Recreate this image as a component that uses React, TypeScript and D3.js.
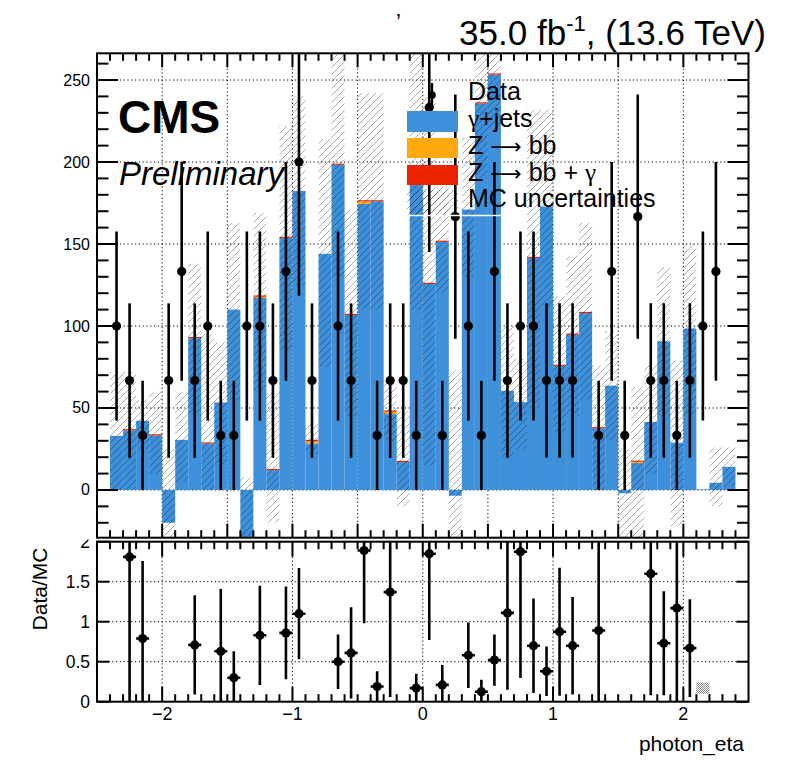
import * as d3 from 'd3';
import React from 'react';

// photon eta histogram: 50 bins from -2.5 to 2.5
const nBins = 50;
const etaMin = -2.5;
const etaMax = 2.5;

// stacked MC contributions per bin
const gammaJets = [
    0, 33, 36.4, 42.2, 33.3, -20, 30.6, 92.6, 28.3, 53.4,
    110, -45, 117.1, 12.1, 153.7, 182.4, 28.4, 144, 198.3, 106.7,
    174.5, 176, 46.3, 17, 190, 125.6, 151.3, -3.5, 171, 235.7,
    253.3, 60.5, 53.6, 141.5, 172.8, 75.7, 94.7, 107.9, 37.6, 63.6,
    -2, 16.4, 41.5, 90.7, 28.9, 98.4, 0.4, 4.4, 14.1, 0,
];
const zToBB = [
    0, 0, 0, 0, 0, 0, 0, 0, 0, 0,
    0, 0, 0.8, 0, 0, 0, 1.5, 0, 0, 0,
    1.5, 0, 1.5, 0, 0, 0, 0, 0, 0, 0,
    0, 0, 0, 0, 0, 0, 0, 0, 0, 0,
    0, 0.8, 0, 0, 0, 0, 0, 0, 0, 0,
];
const zToBBGamma = [
    0, 0, 0.7, 0, 0.7, 0, 0, 0.7, 0.7, 0,
    0, 0, 0.7, 0.7, 0.7, 0, 0.7, 0, 0.7, 0.7,
    0.7, 0.7, 0.7, 0.7, 0, 0.7, 0.7, 0, 0, 0.7,
    0.7, 0, 0, 0.7, 0, 0.7, 0.7, 0.7, 0.7, 0,
    0, 0.7, 0, 0, 0, 0, 0, 0, 0, 0,
];

// MC uncertainty band (hatched), lower and upper edge per bin
const mcUncLow = [
    0, 0, 0, 25, 10, -60, 5, 45, 0, 15,
    55, -90, 60, -20, 85, 125, 22, 75, 130, 45,
    110, 110, 30, -10, 110, 15, 120, -80, 130, 190,
    220, 20, 25, 50, 112, 35, 45, 55, 0, 30,
    -30, -35, 10, 45, -22, 45, 0, -10, 2, 0,
];
const mcUncHigh = [
    0, 72, 72, 55, 60, 25, 60, 138, 95, 90,
    163, 8, 169, 60, 222, 240, 40, 214, 275, 171,
    242, 242, 65, 48, 275, 240, 185, 73, 215, 275,
    275, 100, 80, 232, 232, 118, 143, 163, 76, 97,
    25, 63, 77, 136, 79, 150, 0, 26, 26, 0,
];

// data (weighted events) and their errors
const dataValues = [
    0, 100, 66.7, 33.3, 0, 66.7, 133.3, 66.7, 100, 33.3,
    33.3, 100, 100, 66.7, 133.3, 200, 66.7, 0, 100, 66.7,
    0, 33.3, 66.7, 66.7, 33.3, 233.3, 33.3, 166.7, 100, 33.3,
    133.3, 66.7, 100, 100, 66.7, 66.7, 66.7, 0, 33.3, 133.3,
    33.3, 166.7, 66.7, 66.7, 33.3, 66.7, 100, 133.3, 0, 0,
];
const dataErrors = [
    0, 57.7, 47.1, 33.3, 0, 47.1, 66.7, 47.1, 57.7, 33.3,
    33.3, 57.7, 57.7, 47.1, 66.7, 81.6, 47.1, 0, 57.7, 47.1,
    0, 33.3, 47.1, 47.1, 33.3, 88.2, 33.3, 74.5, 57.7, 33.3,
    66.7, 47.1, 57.7, 57.7, 47.1, 47.1, 47.1, 0, 33.3, 66.7,
    33.3, 74.5, 47.1, 47.1, 33.3, 47.1, 57.7, 66.7, 0, 0,
];

// Data/MC ratio panel (null = no point drawn)
const ratioValues: (number | null)[] = [
    null, null, 1.81, 0.79, null, null, null, 0.71, null, 0.63,
    0.30, null, 0.83, null, 0.86, 1.10, null, null, 0.50, 0.61,
    1.89, 0.19, 1.37, null, 0.17, 1.85, 0.21, null, 0.58, 0.125,
    0.52, 1.11, 1.875, 0.70, 0.38, 0.875, 0.70, null, 0.89, null,
    null, null, 1.60, 0.73, 1.17, 0.67, null, null, null, null,
];
const ratioErrors = [
    0, 0, 1.85, 0.97, 0, 0, 0, 0.62, 0, 0.78,
    0.33, 0, 0.62, 0, 0.58, 0.57, 0, 0, 0.34, 0.57,
    0.91, 0.19, 1.31, 0, 0.18, 1.08, 0.25, 0, 0.41, 0.15,
    0.32, 0.96, 1.58, 0.59, 0.31, 0.8, 0.61, 0, 1.2, 0,
    0, 0, 1.52, 0.65, 1.2, 0.61, 0, 0, 0, 0,
];
// ratio MC-uncertainty box that shows in the panel
const ratioBandBin = [46];
const ratioBandLow = [0.10];
const ratioBandHigh = [0.24];

const topTicks = [0, 50, 100, 150, 200, 250];
const ratioTicks = [0, 0.5, 1, 1.5, 2];
const etaLabels = [-2, -1, 0, 1, 2];

const BLUE = '#3f90da';
const ORANGE = '#ffa90e';
const RED = '#ec2300';
const FONT = '"Liberation Sans", Arial, Helvetica, sans-serif';

const App = (): React.ReactElement => {
    const W = 796;
    const H = 772;
    const frameL = 97;
    const frameR = 748.5;
    const topT = 53.3;
    const topB = 537.7;
    const botT = 541.7;
    const botB = 701.7;

    const x = d3.scaleLinear().domain([etaMin, etaMax]).range([frameL, frameR]);
    const y = d3.scaleLinear().domain([-29.1, 266.3]).range([topB, topT]);
    const yr = d3.scaleLinear().domain([0, 2]).range([botB, botT]);

    const binW = (etaMax - etaMin) / nBins;
    const bins = d3.range(nBins).map((i) => ({ lo: etaMin + i * binW, hi: etaMin + (i + 1) * binW, c: etaMin + (i + 0.5) * binW }));

    const minorEta = d3.range(-24, 25).map((i) => i / 10);
    const halfEta = d3.range(-4, 5).map((i) => i / 2);
    const minorTop = d3.range(-20, 261, 10);

    const dotted = { stroke: '#000', strokeWidth: 1, strokeDasharray: '1.2 2.6' };

    // stacked rectangle helper
    const rect = (i: number, a: number, b: number, fill: string, key: string) => {
        if (a === b) return null;
        const y0 = y(Math.max(a, b));
        const y1 = y(Math.min(a, b));
        return <rect key={key} x={x(bins[i].lo)} y={y0} width={x(bins[i].hi) - x(bins[i].lo)} height={y1 - y0} fill={fill} />;
    };

    const arrow = (
        <tspan fontFamily='"DejaVu Sans", sans-serif' fontSize={22}>
            {'\u27f6'}
        </tspan>
    );
    const gamma = (
        <tspan fontFamily='"Liberation Serif", serif' fontSize={25}>
            {'\u03b3'}
        </tspan>
    );

    return (
        <svg width={W} height={H} style={{ position: 'absolute', left: 0, top: 0, background: '#fff' }} fontFamily={FONT}>
            <defs>
                <pattern id="hatch" patternUnits="userSpaceOnUse" width="7" height="7">
                    <path d="M0,7 L7,0 M-2,2 L2,-2 M5,9 L9,5" stroke="#000" strokeOpacity="0.38" strokeWidth="0.85" />
                </pattern>
                <pattern id="checker" patternUnits="userSpaceOnUse" width="2" height="2">
                    <rect x="0" y="0" width="1" height="1" fill="#888" />
                    <rect x="1" y="1" width="1" height="1" fill="#888" />
                </pattern>
                <clipPath id="topClip">
                    <rect x={frameL} y={topT} width={frameR - frameL} height={topB - topT} />
                </clipPath>
                <clipPath id="botClip">
                    <rect x={frameL} y={botT} width={frameR - frameL} height={botB - botT} />
                </clipPath>
            </defs>
            <rect x={0} y={0} width={W} height={H} fill="#fff" />

            {/* ---------- ratio pad ---------- */}
            <g>
                {etaLabels.map((v) => (
                    <line key={'rgx' + v} x1={x(v)} x2={x(v)} y1={botT} y2={botB} {...dotted} />
                ))}
                {[0.5, 1, 1.5].map((v) => (
                    <line key={'rgy' + v} x1={frameL} x2={frameR} y1={yr(v)} y2={yr(v)} {...dotted} />
                ))}
                <g clipPath="url(#botClip)">
                    {ratioBandBin.map((b, k) => (
                        <rect
                            key={'rb' + k}
                            x={x(bins[b].lo)}
                            y={yr(ratioBandHigh[k])}
                            width={x(bins[b].hi) - x(bins[b].lo)}
                            height={yr(ratioBandLow[k]) - yr(ratioBandHigh[k])}
                            fill="url(#checker)"
                        />
                    ))}
                    {ratioValues.map((r, i) =>
                        r === null ? null : (
                            <g key={'rp' + i}>
                                <line x1={x(bins[i].c)} x2={x(bins[i].c)} y1={yr(r - ratioErrors[i])} y2={yr(r + ratioErrors[i])} stroke="#000" strokeWidth={2.6} />
                                <line x1={x(bins[i].lo)} x2={x(bins[i].hi)} y1={yr(r)} y2={yr(r)} stroke="#000" strokeWidth={2.6} />
                                <circle cx={x(bins[i].c)} cy={yr(r)} r={4.6} fill="#000" />
                            </g>
                        ),
                    )}
                </g>
                {/* ticks */}
                {minorEta.map((v) => {
                    const len = Number.isInteger(v) ? 15 : 7.5;
                    return (
                        <g key={'rtx' + v}>
                            <line x1={x(v)} x2={x(v)} y1={botB} y2={botB - len} stroke="#000" strokeWidth={2} />
                            <line x1={x(v)} x2={x(v)} y1={botT} y2={botT + len} stroke="#000" strokeWidth={2} />
                        </g>
                    );
                })}
                {ratioTicks.map((v) => (
                    <g key={'rty' + v}>
                        <line x1={frameL} x2={frameL + 12.5} y1={yr(v)} y2={yr(v)} stroke="#000" strokeWidth={2} />
                        <line x1={frameR} x2={frameR - 12} y1={yr(v)} y2={yr(v)} stroke="#000" strokeWidth={2} />
                        <text x={90} y={yr(v)} textAnchor="end" dominantBaseline="central" fontSize={17.5}>
                            {String(v)}
                        </text>
                    </g>
                ))}
                <rect x={frameL} y={botT} width={frameR - frameL} height={botB - botT} fill="none" stroke="#000" strokeWidth={2} />
                {etaLabels.map((v) => (
                    <text key={'rlx' + v} x={x(v)} y={720} textAnchor="middle" fontSize={18}>
                        {v < 0 ? '\u2212' + Math.abs(v) : String(v)}
                    </text>
                ))}
                <text x={744} y={751} textAnchor="end" fontSize={21}>
                    photon_eta
                </text>
                <text transform={`translate(47, 589) rotate(-90)`} textAnchor="middle" fontSize={21}>
                    Data/MC
                </text>
            </g>

            {/* ---------- main pad ---------- */}
            <rect x={0} y={0} width={W} height={539.6} fill="#fff" />
            <g>
                {halfEta.map((v) => (
                    <line key={'gx' + v} x1={x(v)} x2={x(v)} y1={topT} y2={topB} {...dotted} />
                ))}
                {topTicks.map((v) => (
                    <line key={'gy' + v} x1={frameL} x2={frameR} y1={y(v)} y2={y(v)} {...dotted} />
                ))}
                <g clipPath="url(#topClip)">
                    {bins.map((b, i) => {
                        const g = gammaJets[i];
                        const o = zToBB[i];
                        const r = zToBBGamma[i];
                        return (
                            <g key={'st' + i}>
                                {rect(i, 0, g, BLUE, 'b')}
                                {rect(i, g, g + o, ORANGE, 'o')}
                                {rect(i, g + o, g + o + r, RED, 'r')}
                            </g>
                        );
                    })}
                    {bins.map((b, i) =>
                        mcUncHigh[i] === mcUncLow[i] ? null : (
                            <rect
                                key={'unc' + i}
                                x={x(b.lo)}
                                y={y(mcUncHigh[i])}
                                width={x(b.hi) - x(b.lo)}
                                height={y(mcUncLow[i]) - y(mcUncHigh[i])}
                                fill="url(#hatch)"
                            />
                        ),
                    )}
                    {dataValues.map((d, i) =>
                        d <= 0 ? null : (
                            <g key={'dp' + i}>
                                <line x1={x(bins[i].c)} x2={x(bins[i].c)} y1={y(d - dataErrors[i])} y2={y(d + dataErrors[i])} stroke="#000" strokeWidth={2.6} />
                                <circle cx={x(bins[i].c)} cy={y(d)} r={4.6} fill="#000" />
                            </g>
                        ),
                    )}
                </g>
                {/* ticks */}
                {minorEta.map((v) => {
                    const len = Number.isInteger(v * 2) ? 14 : 7.5;
                    return (
                        <g key={'tx' + v}>
                            <line x1={x(v)} x2={x(v)} y1={topB} y2={topB - len} stroke="#000" strokeWidth={2} />
                            <line x1={x(v)} x2={x(v)} y1={topT} y2={topT + len} stroke="#000" strokeWidth={2} />
                        </g>
                    );
                })}
                {minorTop.map((v) => {
                    const len = v % 50 === 0 ? 21 : 11.5;
                    return (
                        <g key={'ty' + v}>
                            <line x1={frameL} x2={frameL + len} y1={y(v)} y2={y(v)} stroke="#000" strokeWidth={2} />
                            <line x1={frameR} x2={frameR - len} y1={y(v)} y2={y(v)} stroke="#000" strokeWidth={2} />
                        </g>
                    );
                })}
                {topTicks.map((v) => (
                    <text key={'ly' + v} x={90} y={y(v)} textAnchor="end" dominantBaseline="central" fontSize={16}>
                        {v}
                    </text>
                ))}
                <rect x={frameL} y={topT} width={frameR - frameL} height={topB - topT} fill="none" stroke="#000" strokeWidth={2} />

                {/* CMS label */}
                <text x={118} y={133} fontSize={46} fontWeight="bold">
                    CMS
                </text>
                <text x={119} y={185} fontSize={33} fontStyle="italic">
                    Preliminary
                </text>

                {/* legend */}
                <g>
                    <line x1={432} x2={432} y1={83} y2={107} stroke="#000" strokeWidth={2.4} />
                    <circle cx={432} cy={95} r={3.8} fill="#000" />
                    <rect x={407} y={111} width={51} height={21} fill={BLUE} />
                    <rect x={407} y={138} width={51} height={20} fill={ORANGE} />
                    <rect x={407} y={165} width={51} height={20} fill={RED} />
                    <rect x={407} y={190} width={51} height={25} fill="url(#hatch)" />
                    <line x1={407} x2={502} y1={215.5} y2={215.5} stroke="#fff" strokeWidth={1.6} />
                    <text x={468} y={100} fontSize={25}>
                        Data
                    </text>
                    <text x={468} y={127} fontSize={25}>
                        {gamma}+jets
                    </text>
                    <text x={468} y={154} fontSize={25}>
                        Z {arrow} bb
                    </text>
                    <text x={468} y={181} fontSize={25}>
                        Z {arrow} bb + {gamma}
                    </text>
                    <text x={468} y={207} fontSize={25}>
                        MC uncertainties
                    </text>
                </g>

                {/* header */}
                <text x={766} y={45} textAnchor="end" fontSize={35}>
                    35.0 fb<tspan dy={-14} fontSize={22}>-1</tspan>
                    <tspan dy={14}>, (13.6 TeV)</tspan>
                </text>
                <text x={396} y={29} fontSize={22}>
                    {'\u2019'}
                </text>
            </g>
        </svg>
    );
};

export default App;
